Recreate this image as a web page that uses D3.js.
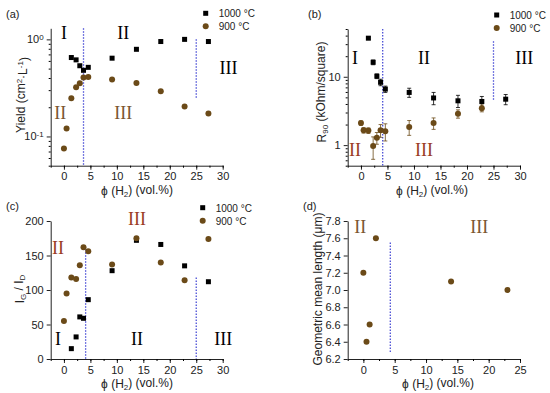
<!DOCTYPE html>
<html>
<head>
<meta charset="utf-8">
<script src="https://cdn.jsdelivr.net/npm/d3@7"></script>
<style>
  body { margin: 0; background: #fff; }
  text { font-family: "Liberation Sans", Arial, sans-serif; }
  .roman { font-family: "Liberation Serif", "Times New Roman", serif; font-size: 18px; }
</style>
</head>
<body>
<div id="chart"></div>
<script>
// H2 concentration (vol.%) for each series
var x1000 = [1.4, 2.3, 3.0, 3.7, 4.6, 9.1, 13.7, 18.3, 22.8, 27.3];
var x900 = [0, 0.5, 1.4, 2.3, 3.0, 3.7, 4.6, 9.1, 13.7, 18.3, 22.8, 27.3];

// (a) yield
var yield1000 = [0.65, 0.615, 0.535, 0.48, 0.515, 0.64, 0.79, 0.95, 1.0, 0.95];
var yield900 = [0.075, 0.121, 0.248, 0.321, 0.353, 0.406, 0.41, 0.385, 0.356, 0.292, 0.204, 0.172];

// (b) sheet resistance, with errors
var r1000 = [36.7, 16.3, 10.2, 8.3, 6.6, 5.9, 4.9, 4.45, 4.35, 4.7];
var r1000Err = [1.5, 1.3, 0.8, 0.9, 0.7, 0.9, 1.0, 0.9, 0.8, 0.8];
var r900 = [2.1, 1.65, 1.63, 0.97, 1.28, 1.65, 1.6, 1.84, 2.1, 2.88, 3.47];
var r900Err = [0.15, 0.15, 0.15, 0.35, 0.25, 0.35, 0.45, 0.45, 0.4, 0.4, 0.4];

// (c) IG / ID
var ig1000 = [15, 32, 61, 59, 86, 128, 172, 166, 135, 112];
var ig900 = [55, 95, 118, 116, 136, 162, 156, 137, 175, 140, 114, 174];

// (d) geometric mean length
var xLen = [0, 0.5, 1, 2, 14, 23];
var lenVals = [7.2, 6.4, 6.6, 7.6, 7.1, 7.0];

var black = "#000";
var brown = "#6b4a18";
var redRoman = "#9a3b22";
var brownRoman = "#7a5530";
var blue = "#4b4fd6";

var svg = d3.select("#chart").append("svg")
    .attr("width", 550)
    .attr("height", 393);

// draw one panel; returns scales
function panel(cfg) {
  var x = d3.scaleLinear().domain(cfg.xDomain).range(cfg.xRange);
  var y = (cfg.log ? d3.scaleLog() : d3.scaleLinear()).domain(cfg.yDomain).range(cfg.yRange);
  var g = svg.append("g");

  // x axis
  var xAxis = d3.axisBottom(x).tickValues(cfg.xTicks).tickSize(4).tickSizeOuter(0).tickFormat(d3.format("d"));
  var gx = g.append("g").attr("transform", "translate(0," + cfg.yRange[0] + ")").call(xAxis);
  var xMinor = [];
  for (var v = cfg.xDomain[0]; v <= cfg.xDomain[1] + 0.01; v += 2.5) xMinor.push(v);
  g.append("g").attr("transform", "translate(0," + cfg.yRange[0] + ")")
    .call(d3.axisBottom(x).tickValues(xMinor).tickSize(2).tickFormat("").tickSizeOuter(0))
    .select(".domain").remove();

  // y axis
  var yAxis = d3.axisLeft(y).tickValues(cfg.yTicks).tickSize(4).tickSizeOuter(0);
  if (cfg.yFormat) yAxis.tickFormat(cfg.yFormat);
  var gy = g.append("g").attr("transform", "translate(" + cfg.xRange[0] + ",0)").call(yAxis);
  if (cfg.yMinor) {
    g.append("g").attr("transform", "translate(" + cfg.xRange[0] + ",0)")
      .call(d3.axisLeft(y).tickValues(cfg.yMinor).tickSize(2).tickFormat("").tickSizeOuter(0))
      .select(".domain").remove();
  }
  [gx, gy].forEach(function (a) {
    a.selectAll("text").style("font-size", "11px").attr("fill", "#222");
    a.selectAll("line, path").attr("stroke", "#222");
  });
  if (cfg.logLabels) {
    gy.selectAll(".tick text").each(function (d) {
      var t = d3.select(this).text("");
      var lab = cfg.logLabels(d);
      t.append("tspan").text(lab[0]);
      if (lab[1]) t.append("tspan").attr("dy", "-0.45em").style("font-size", "8px").text(lab[1]);
    });
  }

  // axis labels
  var xl = g.append("text").attr("x", cfg.xLabelPos[0]).attr("y", cfg.xLabelPos[1])
    .attr("text-anchor", "middle").style("font-size", "12px").attr("fill", "#222");
  xl.append("tspan").text("ϕ (H");
  xl.append("tspan").attr("dy", "0.3em").style("font-size", "8px").text("2");
  xl.append("tspan").attr("dy", "-0.3em").text(") (vol.%)");

  var yl = g.append("text")
    .attr("transform", "translate(" + cfg.yLabelPos[0] + "," + cfg.yLabelPos[1] + ") rotate(-90)")
    .attr("text-anchor", "middle").style("font-size", "12px").attr("fill", "#222");
  cfg.yLabel.forEach(function (p) {
    var ts = yl.append("tspan").text(p[0]);
    if (p[1] === "sub") ts.attr("dy", "0.3em").style("font-size", "8px");
    if (p[1] === "sup") ts.attr("dy", "-0.4em").style("font-size", "8px");
    if (p[1] === "back") ts.attr("dy", "-0.3em");
    if (p[1] === "down") ts.attr("dy", "0.4em");
  });

  g.append("text").attr("x", cfg.tag[0]).attr("y", cfg.tag[1])
    .style("font-size", "11px").attr("fill", "#222").text(cfg.tag[2]);

  // dotted separators
  cfg.vlines.forEach(function (l) {
    g.append("line")
      .attr("x1", x(l[0])).attr("x2", x(l[0]))
      .attr("y1", y(l[1])).attr("y2", y(l[2]))
      .attr("stroke", blue).attr("stroke-width", 1.3).attr("stroke-dasharray", "1.5,1.5");
  });

  // regime labels
  cfg.romans.forEach(function (r) {
    g.append("text").attr("class", "roman")
      .attr("x", x(r[1])).attr("y", y(r[2])).attr("dy", "0.35em")
      .attr("text-anchor", "middle").attr("fill", r[3]).text(r[0]);
  });

  return { x: x, y: y, g: g };
}

function squares(p, xs, ys, errs) {
  if (errs) errBars(p, xs, ys, errs, black);
  p.g.selectAll(null).data(ys).enter().append("rect")
    .attr("x", function (d, i) { return p.x(xs[i]) - 2.5; })
    .attr("y", function (d) { return p.y(d) - 2.5; })
    .attr("width", 5).attr("height", 5).attr("fill", black);
}

function circles(p, xs, ys, errs) {
  if (errs) errBars(p, xs, ys, errs, brown);
  p.g.selectAll(null).data(ys).enter().append("circle")
    .attr("cx", function (d, i) { return p.x(xs[i]); })
    .attr("cy", function (d) { return p.y(d); })
    .attr("r", 3).attr("fill", brown);
}

function errBars(p, xs, ys, errs, col) {
  ys.forEach(function (v, i) {
    var cx = p.x(xs[i]);
    var y1 = p.y(v + errs[i]), y2 = p.y(Math.max(v - errs[i], 0.01));
    p.g.append("line").attr("x1", cx).attr("x2", cx).attr("y1", y1).attr("y2", y2)
      .attr("stroke", col).attr("stroke-width", 0.8);
    [y1, y2].forEach(function (yy) {
      p.g.append("line").attr("x1", cx - 2).attr("x2", cx + 2).attr("y1", yy).attr("y2", yy)
        .attr("stroke", col).attr("stroke-width", 0.8);
    });
  });
}

function legend(x0, y0) {
  svg.append("rect").attr("x", x0 - 2.5).attr("y", y0 - 2.5).attr("width", 5).attr("height", 5).attr("fill", black);
  svg.append("circle").attr("cx", x0).attr("cy", y0 + 13).attr("r", 3).attr("fill", brown);
  svg.append("text").attr("x", x0 + 13).attr("y", y0 + 4).style("font-size", "10px").attr("fill", "#222").text("1000 °C");
  svg.append("text").attr("x", x0 + 13).attr("y", y0 + 17).style("font-size", "10px").attr("fill", "#222").text("900 °C");
}

function logMinor(lo, hi) {
  var out = [];
  for (var e = -3; e < 3; e++) {
    for (var m = 2; m <= 9; m++) {
      var v = m * Math.pow(10, e);
      if (v >= lo && v <= hi) out.push(v);
    }
  }
  return out;
}

var xt30 = [0, 5, 10, 15, 20, 25, 30];

// (a)
var pa = panel({
  xDomain: [-2.5, 30], xRange: [50.7, 222.7], xTicks: xt30,
  log: true, yDomain: [0.05, 1.3], yRange: [165.7, 28.3], yTicks: [0.1, 1],
  yMinor: logMinor(0.05, 1.3),
  logLabels: function (d) { return d === 1 ? ["10", "0"] : ["10", "-1"]; },
  xLabelPos: [137, 195], yLabelPos: [25, 95],
  yLabel: [["Yield (cm"], ["2", "sup"], ["·L", "down"], ["-1", "sup"], [")", "down"]],
  tag: [6, 18, "(a)"],
  vlines: [[3.7, 1.3, 0.05], [25, 1.0, 0.245]],
  romans: [["I", 0, 1.16, black], ["II", 11.2, 1.16, black], ["III", 31.1, 0.507, black],
           ["II", -0.7, 0.174, brownRoman], ["III", 11.2, 0.174, brownRoman]]
});
squares(pa, x1000, yield1000);
circles(pa, x900, yield900);
legend(205.7, 13.3);

// (b)
var pb = panel({
  xDomain: [-2.5, 30], xRange: [347.7, 520], xTicks: xt30,
  log: true, yDomain: [0.5, 50], yRange: [165.7, 29], yTicks: [1, 10],
  yMinor: logMinor(0.5, 50), yFormat: d3.format("d"),
  xLabelPos: [432, 195], yLabelPos: [326, 92],
  yLabel: [["R"], ["90", "sub"], [" (kOhm/square)", "back"]],
  tag: [308, 18, "(b)"],
  vlines: [[4.1, 50, 0.5], [25, 33, 4.5]],
  romans: [["I", -1.1, 18.8, black], ["II", 11.9, 18.8, black], ["III", 30.8, 18.8, black],
           ["II", -1.1, 0.85, redRoman], ["III", 11.9, 0.85, redRoman]]
});
squares(pb, x1000, r1000, r1000Err);
circles(pb, x900.slice(0, r900.length), r900, r900Err);
legend(496.7, 15);

// (c)
var pc = panel({
  xDomain: [-2.5, 30], xRange: [50.7, 222.7], xTicks: xt30,
  log: false, yDomain: [0, 200], yRange: [359, 221], yTicks: [0, 50, 100, 150, 200],
  xLabelPos: [137, 388], yLabelPos: [24, 289],
  yLabel: [["I"], ["G", "sub"], [" / I", "back"], ["D", "sub"]],
  tag: [6, 210, "(c)"],
  vlines: [[4.1, 159, 0], [25, 118, 0]],
  romans: [["II", -1.1, 161, redRoman], ["III", 13.8, 204, redRoman],
           ["I", -1.1, 30, black], ["II", 13.8, 30, black], ["III", 30.1, 30, black]]
});
squares(pc, x1000, ig1000);
circles(pc, x900, ig900);
legend(202.7, 207.7);

// (d)
var pd = panel({
  xDomain: [-2.5, 25], xRange: [347.7, 520], xTicks: [0, 5, 10, 15, 20, 25],
  log: false, yDomain: [6.2, 7.8], yRange: [359, 221],
  yTicks: [6.2, 6.4, 6.6, 6.8, 7.0, 7.2, 7.4, 7.6, 7.8], yFormat: d3.format(".1f"),
  xLabelPos: [438, 388], yLabelPos: [322, 289],
  yLabel: [["Geometric mean length (μm)"]],
  tag: [303, 210, "(d)"],
  vlines: [[4.3, 7.55, 6.28]],
  romans: [["II", -0.5, 7.73, brownRoman], ["III", 18.5, 7.73, brownRoman]]
});
circles(pd, xLen, lenVals);
</script>
</body>
</html>
